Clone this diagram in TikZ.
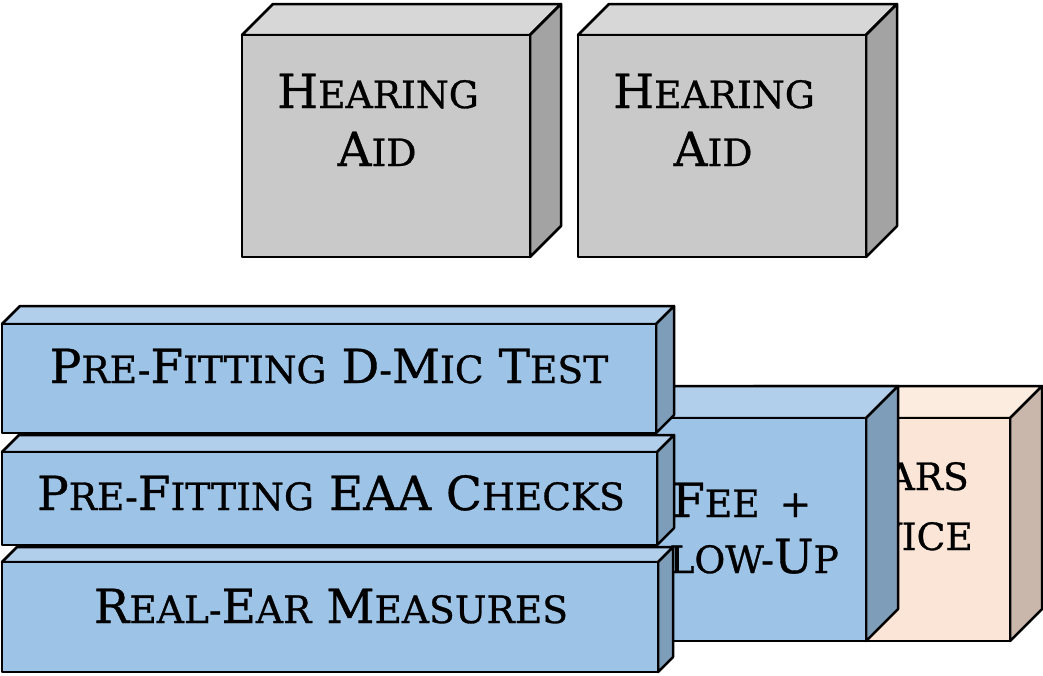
\documentclass[tikz,border=0pt]{standalone}
\usepackage{fontspec}
\usepackage{tikz}
\newfontfamily\platefont[FakeBold=0.8]{DejaVu Serif}
\newcommand\smc[1]{{\fontsize{37.6}{40}\selectfont #1}}
\definecolor{bluefront}{HTML}{9DC3E6}
\definecolor{bluetop}{HTML}{B1CFEB}
\definecolor{blueside}{HTML}{7E9DB9}
\definecolor{greyfront}{HTML}{C9C9C9}
\definecolor{greytop}{HTML}{D7D7D7}
\definecolor{greyside}{HTML}{A3A3A3}
\definecolor{peachfront}{HTML}{FBE5D6}
\definecolor{peachtop}{HTML}{FCEBDF}
\definecolor{peachside}{HTML}{C9B7AB}
\def\cuboid[#1](#2,#3)(#4,#5)(#6)% Syntax: [colour] (front top-left) (front bottom-right) (depth)
{ \filldraw[fill=#1top,line width=2.5pt,line join=round] (#2,#3) -- ++(#6,-#6) -- (#4+#6,#3-#6) -- (#4,#3) -- cycle;
  \filldraw[fill=#1side,line width=2.5pt,line join=round] (#4,#3) -- (#4+#6,#3-#6) -- (#4+#6,#5-#6) -- (#4,#5) -- cycle;
  \filldraw[fill=#1front,line width=2.5pt,line join=round] (#2,#3) rectangle (#4,#5); }
\tikzset{
	boxtext/.style={font=\platefont\fontsize{47}{50}\selectfont,inner sep=0pt,anchor=base},
}

\begin{document}
\begin{tikzpicture}[x=1pt,y=-1pt]
		\useasboundingbox (0,0) rectangle (1043,675);
		% hearing aids
		\cuboid[grey](242,35)(530,257)(31);
		\cuboid[grey](578,35)(866,257)(31);
		\node[boxtext] (hear1) at (378,108) {H\smc{EARING}};
		\node[boxtext] (aid1) at (377,166) {A\smc{ID}};
		\node[boxtext] (hear2) at (714,108) {H\smc{EARING}};
		\node[boxtext] (aid2) at (713,166) {A\smc{ID}};
		% back row
		\cuboid[peach](722,418)(1010,641)(32);
		\node[boxtext,anchor=base east] (yrs) at (969,490) {Y\smc{EARS}};
		\node[boxtext,anchor=base east] (svc) at (973,550) {S\smc{ERVICE}};
		\cuboid[blue](578,418)(866,641)(32);
		\node[boxtext,anchor=base west] (fee) at (672,517) {F\smc{EE}\hspace{20pt}\smc{+}};
		\node[boxtext,anchor=base east] (fup) at (839,573) {F\smc{OLLOW-}U\smc{P}};
		% checks
		\cuboid[blue](2,324)(656,433)(18);
		\node[boxtext] (dmic) at (329,383) {P\smc{RE-}F\smc{ITTING} D\smc{-}M\smc{IC} T\smc{EST}};
		\cuboid[blue](2,452)(657,545)(17);
		\node[boxtext] (eaa) at (331,510) {P\smc{RE-}F\smc{ITTING} EAA C\smc{HECKS}};
		\cuboid[blue](2,562)(658,672)(15);
		\node[boxtext] (rem) at (331,623) {R\smc{EAL-}E\smc{AR} M\smc{EASURES}};
	\end{tikzpicture}
\end{document}
